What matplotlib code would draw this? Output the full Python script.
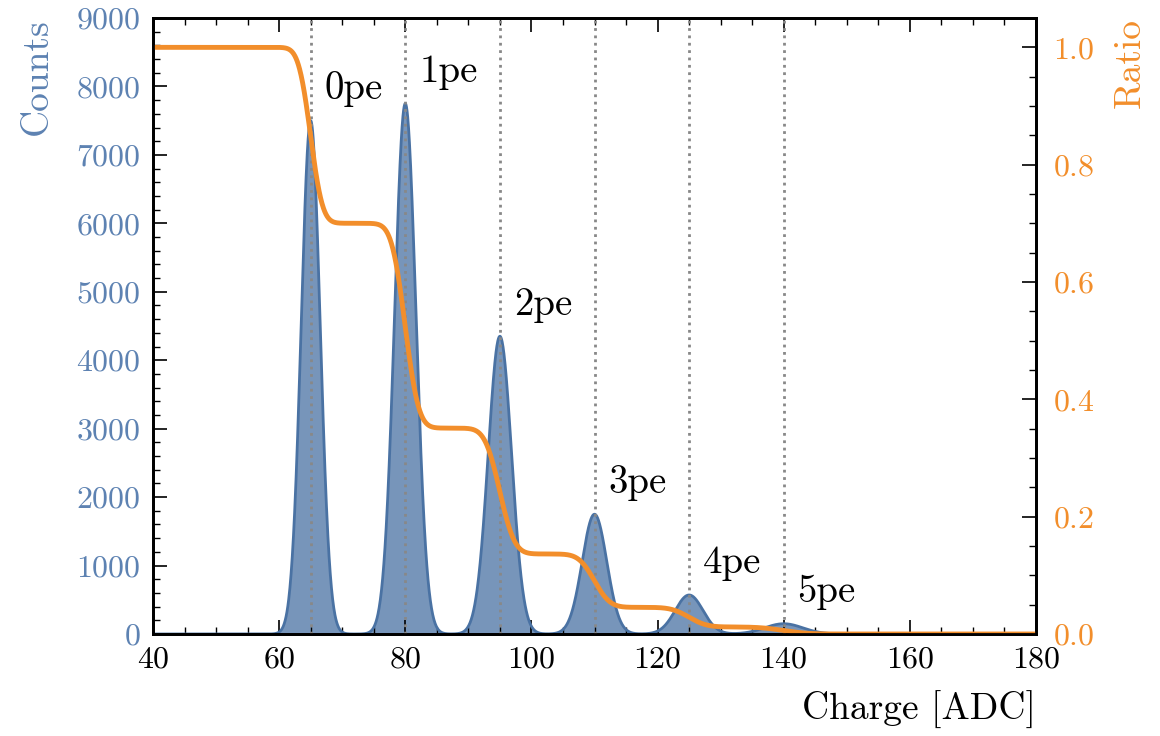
import matplotlib
matplotlib.use("Agg")
import matplotlib.pyplot as plt
import numpy as np
from matplotlib.ticker import MultipleLocator

# peak positions (ADC), heights (counts) and widths
peak_pos = [65, 80, 95, 110, 125, 140]
peak_height = [7500, 7750, 4350, 1750, 570, 150]
peak_sigma = [1.5, 1.69, 1.85, 1.95, 2.2, 3.0]
peak_labels = ["0pe", "1pe", "2pe", "3pe", "4pe", "5pe"]

blue = "#4a72a3"
blue_txt = "#5d82b2"
orange = "#f28e2b"

plt.rcParams["font.family"] = "serif"
plt.rcParams["font.serif"] = ["cmr10"]
plt.rcParams["mathtext.fontset"] = "cm"
plt.rcParams["axes.formatter.use_mathtext"] = True


def spectrum(x):
    y = np.zeros_like(x)
    for m, h, s in zip(peak_pos, peak_height, peak_sigma):
        y += h * np.exp(-0.5 * ((x - m) / s) ** 2)
    return y


x = np.linspace(40, 180, 3000)
counts = spectrum(x)
ratio = 1 - np.cumsum(counts) / np.sum(counts)

fig = plt.figure(figsize=(11.6, 7.36), dpi=100)
ax = fig.add_axes([153 / 1160, 1 - 634 / 736, 883 / 1160, 616 / 736])

ax.fill_between(x, counts, color=blue, alpha=0.75, lw=0)
ax.plot(x, counts, color=blue, lw=2)
for m in peak_pos:
    ax.axvline(m, color="#888888", ls=":", lw=2, zorder=3)
for m, h, lab in zip(peak_pos, peak_height, peak_labels):
    ax.text(m + 2.2, h + 460, lab, fontsize=28, va="center", ha="left")

ax.set_xlim(40, 180)
ax.set_ylim(0, 9000)
ax.xaxis.set_major_locator(MultipleLocator(20))
ax.xaxis.set_minor_locator(MultipleLocator(5))
ax.yaxis.set_major_locator(MultipleLocator(1000))
ax.yaxis.set_minor_locator(MultipleLocator(200))
ax.tick_params(which="both", direction="in", top=True, right=False, labelsize=23, pad=9)
ax.tick_params(which="major", length=10, width=1.2)
ax.tick_params(which="minor", length=5, width=1.0)
ax.tick_params(axis="y", labelcolor=blue_txt)
ax.set_xlabel("Charge [ADC]", fontsize=27, loc="right", labelpad=12)
ax.set_ylabel("Counts", fontsize=27, loc="top", color=blue_txt, labelpad=16)
for sp in ax.spines.values():
    sp.set_linewidth(2)

ax2 = ax.twinx()
ax2.plot(x, ratio, color=orange, lw=3.5)
ax2.set_ylim(0, 1.05)
ax2.yaxis.set_major_locator(MultipleLocator(0.2))
ax2.yaxis.set_minor_locator(MultipleLocator(0.05))
ax2.tick_params(which="both", direction="in", labelsize=23, labelcolor=orange, pad=12)
ax2.tick_params(which="major", length=10, width=1.2)
ax2.tick_params(which="minor", length=5, width=1.0)
ax2.set_ylabel("Ratio", fontsize=27, loc="top", color=orange, labelpad=14)
for sp in ax2.spines.values():
    sp.set_linewidth(2)

fig.savefig("out.png", dpi=100)
